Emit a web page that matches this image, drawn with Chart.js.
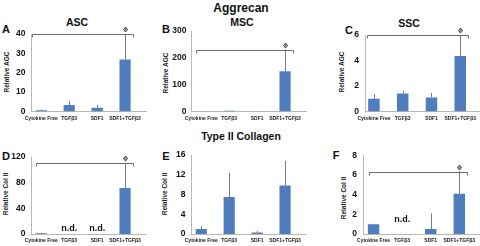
<!DOCTYPE html>
<html><head><meta charset="utf-8">
<script src="https://cdn.jsdelivr.net/npm/chart.js@4"></script>
<style>
html,body{margin:0;padding:0;background:#fff;}
#wrap{position:relative;width:480px;height:246px;overflow:hidden;font-family:"Liberation Sans",Arial,sans-serif;}
canvas{position:absolute;left:0;top:0;}
.t{position:absolute;font-weight:bold;color:#111;white-space:nowrap;transform:translate(-50%,-50%);line-height:1;}
.yt{position:absolute;font-weight:bold;color:#222;white-space:nowrap;transform:translate(-50%,-50%) rotate(-90deg);font-size:6.5px;line-height:1;}
</style></head><body><div id="wrap">
<div class="t" style="left:241px;top:8px;font-size:12px">Aggrecan</div>
<div class="t" style="left:77px;top:22px;font-size:10.5px">ASC</div>
<div class="t" style="left:242px;top:22px;font-size:10.5px">MSC</div>
<div class="t" style="left:409px;top:23px;font-size:10.5px">SSC</div>
<div class="t" style="left:241px;top:136px;font-size:10.5px">Type II Collagen</div>
<div class="t" style="left:6px;top:29px;font-size:11px">A</div>
<div class="t" style="left:166px;top:29px;font-size:11px">B</div>
<div class="t" style="left:349px;top:30px;font-size:11px">C</div>
<div class="t" style="left:6px;top:156px;font-size:11px">D</div>
<div class="t" style="left:166px;top:156px;font-size:11px">E</div>
<div class="t" style="left:336px;top:155px;font-size:11px">F</div>
<div class="yt" style="left:7px;top:72px">Relative AGC</div>
<div class="yt" style="left:166px;top:73px">Relative AGC</div>
<div class="yt" style="left:342px;top:72px">Relative AGC</div>
<div class="yt" style="left:6px;top:194px">Relative Col II</div>
<div class="yt" style="left:165px;top:194px">Relative Col II</div>
<div class="yt" style="left:344px;top:198px">Relative Col II</div>
</div>
<script>
const categories = ["Cytokine Free", "TGF\u03b23", "SDF1", "SDF1+TGF\u03b23"];
// Aggrecan
const ascAGC = [0.6, 3.3, 2.0, 26.8];
const ascAGCErr = [0.4, 2.1, 1.4, 13.2];
const mscAGC = [1, 3, 1, 150];
const mscAGCErr = [0.5, 1, 0.5, 81];
const sscAGC = [1.0, 1.42, 1.1, 4.35];
const sscAGCErr = [0.37, 0.18, 0.35, 1.65];
// Type II collagen (null = n.d.)
const ascCol = [1, null, null, 71.5];
const ascColErr = [1, 0, 0, 39.5];
const mscCol = [1.0, 7.5, 0.3, 9.8];
const mscColErr = [0.6, 4.9, 0.3, 5.0];
const sscCol = [1.0, null, 0.5, 4.1];
const sscColErr = [0.05, 0, 1.6, 2.3];
// axis ticks
const ticksA = {max: 40, step: 10};
const ticksB = {max: 300, step: 100};
const ticksC = {max: 6, step: 2};
const ticksD = {max: 120, step: 40};
const ticksE = {max: 16, step: 4};
const ticksF = {max: 8, step: 2};
// significance brackets (level in axis units)
const sigA = 40, sigB = 231, sigC = 6.0, sigD = 111, sigF = 6.35;

const BAR = '#4f7dbd', AX = '#b8b8b8', ERR = '#7a7a7a', BR = '#6e6e6e';
const wrap = document.getElementById('wrap');

const panels = [
  {key:'A', values:ascAGC, errors:ascAGCErr, t:ticksA, sig:sigA, from:-0.33, nd:[], plot:{left:31.5,right:146,top:34,bottom:111.5}, xMin:-0.35, xMax:3.75, pad:6},
  {key:'B', values:mscAGC, errors:mscAGCErr, t:ticksB, sig:sigB, from:-0.19, nd:[], plot:{left:191.5,right:306,top:31,bottom:111.5}, xMin:-0.35, xMax:3.75, pad:5},
  {key:'C', values:sscAGC, errors:sscAGCErr, t:ticksC, sig:sigC, from:-0.23, nd:[], plot:{left:365,right:480,top:35,bottom:111.5}, xMin:-0.31, xMax:3.68, pad:6},
  {key:'D', values:ascCol, errors:ascColErr, t:ticksD, sig:sigD, from:-0.2, nd:[1,2], ndOff:5, plot:{left:31.5,right:146,top:157,bottom:234}, xMin:-0.35, xMax:3.75, pad:6},
  {key:'E', values:mscCol, errors:mscColErr, t:ticksE, sig:null, nd:[], plot:{left:191.5,right:306,top:155,bottom:234}, xMin:-0.35, xMax:3.75, pad:6},
  {key:'F', values:sscCol, errors:sscColErr, t:ticksF, sig:sigF, from:-0.15, nd:[1], ndOff:14, plot:{left:363,right:479,top:155.3,bottom:234}, xMin:-0.37, xMax:3.69, pad:6}
];

function overlay(p){
  return {
    id:'ov'+p.key,
    afterDatasetsDraw(chart){
      const ctx = chart.ctx, xs = chart.scales.x, ys = chart.scales.y;
      ctx.save();
      ctx.lineWidth = 1;
      ctx.strokeStyle = ERR;
      p.values.forEach((v,i)=>{
        if (v == null || !p.errors[i]) return;
        const x = Math.round(xs.getPixelForValue(i)) + 0.5;
        ctx.beginPath();
        ctx.moveTo(x, ys.getPixelForValue(v));
        ctx.lineTo(x, ys.getPixelForValue(v + p.errors[i]));
        ctx.stroke();
      });
      if (p.sig != null) {
        const y = Math.round(ys.getPixelForValue(p.sig)) + 0.5;
        const x1 = Math.round(xs.getPixelForValue(p.from)) + 0.5;
        const x2 = Math.round(xs.getPixelForValue(3.28)) + 0.5;
        ctx.strokeStyle = BR;
        ctx.beginPath();
        ctx.moveTo(x1, y + 3); ctx.lineTo(x1, y); ctx.lineTo(x2, y); ctx.lineTo(x2, y + 3);
        ctx.stroke();
        const dx = Math.round(xs.getPixelForValue(3)) + 0.5, dy = y - 5;
        ctx.strokeStyle = '#444';
        ctx.fillStyle = '#999';
        ctx.beginPath();
        ctx.moveTo(dx, dy - 2.5); ctx.lineTo(dx + 2, dy); ctx.lineTo(dx, dy + 2.5); ctx.lineTo(dx - 2, dy); ctx.closePath();
        ctx.fill();
        ctx.stroke();
      }
      p.nd.forEach(i=>{
        ctx.fillStyle = '#111';
        ctx.font = 'bold 9px "Liberation Sans", Arial, sans-serif';
        ctx.textAlign = 'center';
        ctx.textBaseline = 'middle';
        ctx.fillText('n.d.', xs.getPixelForValue(i), ys.getPixelForValue(0) - p.ndOff);
      });
      ctx.restore();
    }
  };
}

function makePanel(p){
  const c = document.createElement('canvas');
  c.width = 480; c.height = 246;
  wrap.appendChild(c);
  const YW = 22, XH = 12;
  new Chart(c, {
    type: 'bar',
    data: {datasets: [{
      data: p.values.map((v,i)=>({x:i, y:v})),
      backgroundColor: BAR, borderWidth: 0,
      barPercentage: 0.4, categoryPercentage: 1
    }]},
    options: {
      responsive: false, animation: false, events: [],
      layout: {padding: {left: p.plot.left - YW, right: 480 - p.plot.right, top: p.plot.top, bottom: 246 - p.plot.bottom - XH}},
      plugins: {legend: {display: false}, tooltip: {enabled: false}},
      scales: {
        x: {
          type: 'linear', min: p.xMin, max: p.xMax, offset: false,
          grid: {display: false, drawTicks: false, offset: false},
          border: {display: true, color: AX, width: 1},
          afterFit: s => { s.height = XH; },
          afterBuildTicks: s => { s.ticks = categories.map((_, i) => ({value: i})); },
          ticks: {callback: v => categories[v], font: {size: 5, weight: 'bold', family: '"Liberation Sans", Arial'}, color: '#222', padding: 4, maxRotation: 0, autoSkip: false}
        },
        y: {
          min: 0, max: p.t.max,
          grid: {display: false, drawTicks: false},
          border: {display: true, color: AX, width: 1},
          afterFit: s => { s.width = YW; },
          ticks: {stepSize: p.t.step, font: {size: 8.5, weight: 'bold', family: '"Liberation Sans", Arial'}, color: '#111', padding: p.pad}
        }
      }
    },
    plugins: [overlay(p)]
  });
}
panels.forEach(makePanel);
</script>
</body></html>
